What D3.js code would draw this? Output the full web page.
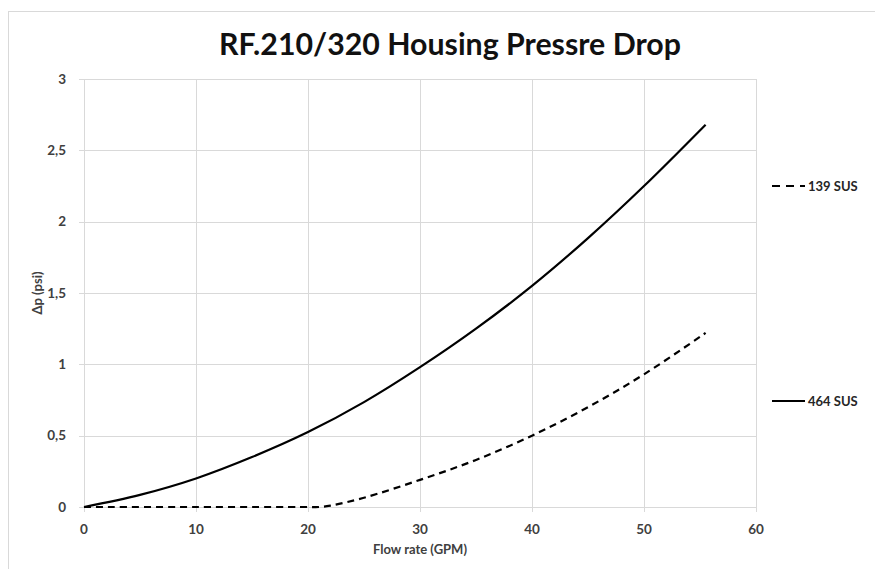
<!DOCTYPE html>
<html>
<head>
<meta charset="utf-8">
<script src="https://cdn.jsdelivr.net/npm/d3@7"></script>
<style>
	body { margin: 0; background: #fff; }
	text { font-family: Lato, "Open Sans", sans-serif; font-weight: bold; }
</style>
</head>
<body>
<div id="main"></div>
<script>
// values
let flow_464 = [0, 5, 10, 15, 20, 25, 30, 35, 40, 45, 50, 55.5];
let dp_464 = [0, 0.085, 0.2, 0.35, 0.525, 0.735, 0.98, 1.25, 1.55, 1.885, 2.25, 2.68];
let flow_139 = [0, 10, 20, 21, 22, 25, 30, 35, 40, 45, 50, 55.5];
let dp_139 = [0, 0, 0, 0, 0.01, 0.065, 0.19, 0.33, 0.5, 0.7, 0.93, 1.22];
let x_ticks = [0, 10, 20, 30, 40, 50, 60];
let y_ticks = [0, 0.5, 1, 1.5, 2, 2.5, 3];
let series_names = ["139 SUS", "464 SUS"];

let width = 875, height = 569;
let margin = {left: 84, right: 119, top: 79, bottom: 62};

let svg = d3.select("#main").append("svg")
	.attr("width", width).attr("height", height);

// chart frame, only left and top edges fall inside the picture
svg.append("rect")
	.attr("x", 8.5).attr("y", 11.5)
	.attr("width", 900).attr("height", 600)
	.attr("fill", "none").attr("stroke", "#d9d9d9");

let x = d3.scaleLinear().domain([0, 60]).range([margin.left, width - margin.right]);
let y = d3.scaleLinear().domain([0, 3]).range([height - margin.bottom, margin.top]);

let fmt = function (d) { return String(d).replace(".", ","); };

// grid
svg.append("g").selectAll("line")
	.data(y_ticks).enter().append("line")
	.attr("x1", x(0) - 5).attr("x2", x(60))
	.attr("y1", function (d) { return Math.round(y(d)) + 0.5; })
	.attr("y2", function (d) { return Math.round(y(d)) + 0.5; })
	.attr("stroke", "#d9d9d9");
svg.append("g").selectAll("line")
	.data(x_ticks).enter().append("line")
	.attr("y1", y(3)).attr("y2", y(0) + 5)
	.attr("x1", function (d) { return Math.round(x(d)) + 0.5; })
	.attr("x2", function (d) { return Math.round(x(d)) + 0.5; })
	.attr("stroke", "#d9d9d9");

// tick labels
svg.append("g").selectAll("text")
	.data(y_ticks).enter().append("text")
	.attr("x", x(0) - 18).attr("y", function (d) { return y(d); })
	.attr("dy", "0.35em").attr("text-anchor", "end")
	.attr("font-size", 13.5).attr("fill", "#404040")
	.text(fmt);
svg.append("g").selectAll("text")
	.data(x_ticks).enter().append("text")
	.attr("x", function (d) { return x(d); }).attr("y", y(0) + 27)
	.attr("text-anchor", "middle")
	.attr("font-size", 13.5).attr("fill", "#404040")
	.text(fmt);

// axis titles
svg.append("text")
	.attr("x", (x(0) + x(60)) / 2).attr("y", 554)
	.attr("text-anchor", "middle").attr("font-size", 13).attr("fill", "#404040")
	.text("Flow rate (GPM)");
svg.append("text")
	.attr("transform", "translate(42," + (y(0) + y(3)) / 2 + ") rotate(-90)")
	.attr("text-anchor", "middle").attr("font-size", 13).attr("fill", "#404040")
	.text("Δp (psi)");

// title, sized to the reference width
let title = svg.append("text")
	.attr("x", 450).attr("y", 55)
	.attr("text-anchor", "middle").attr("font-size", 30).attr("fill", "#111")
	.text("RF.210/320 Housing Pressre Drop");
let tw = title.node().getComputedTextLength();
title.attr("font-size", 30 * 462 / tw);

// curves
let line = d3.line()
	.x(function (d) { return x(d[0]); })
	.y(function (d) { return y(d[1]); })
	.curve(d3.curveCatmullRom.alpha(0.5));

svg.append("path")
	.datum(d3.zip(flow_139, dp_139))
	.attr("d", line)
	.attr("fill", "none").attr("stroke", "#000")
	.attr("stroke-width", 2.2).attr("stroke-dasharray", "7,5");
svg.append("path")
	.datum(d3.zip(flow_464, dp_464))
	.attr("d", line)
	.attr("fill", "none").attr("stroke", "#000")
	.attr("stroke-width", 2.2);

// legend
let legend_y = [186, 401];
let legend = svg.append("g").selectAll("g")
	.data(series_names).enter().append("g")
	.attr("transform", function (d, i) { return "translate(0," + legend_y[i] + ")"; });
legend.append("line")
	.attr("x1", 772).attr("x2", 805).attr("y1", 0).attr("y2", 0)
	.attr("stroke", "#000").attr("stroke-width", 2.2)
	.attr("stroke-dasharray", function (d, i) { return i == 0 ? "8,6" : null; });
legend.append("text")
	.attr("x", 808).attr("dy", "0.35em")
	.attr("font-size", 13).attr("fill", "#262626")
	.text(function (d) { return d; });
</script>
</body>
</html>
